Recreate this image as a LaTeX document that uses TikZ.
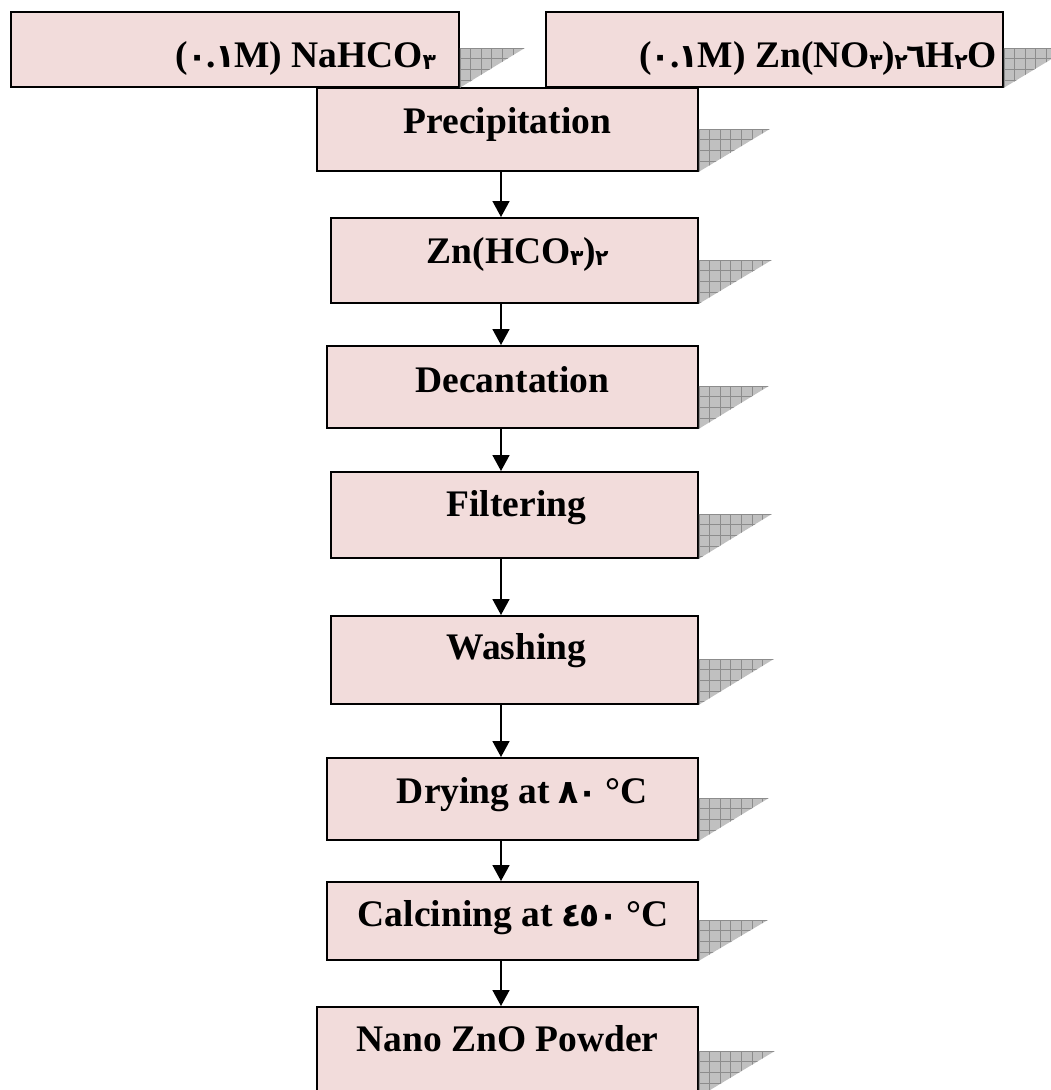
\documentclass[tikz,border=0pt]{standalone}
\usepackage{fontspec}
\setmainfont{Liberation Serif}
\newfontfamily\arfont{DejaVu Sans}
\usetikzlibrary{arrows.meta}
\definecolor{boxpink}{RGB}{242,220,219}
\definecolor{shadefill}{RGB}{192,192,192}
\definecolor{shadeline}{RGB}{140,140,140}
\newcommand\dg[1]{\makebox[18.5pt][c]{\arfont\bfseries\fontsize{33}{36}\selectfont #1}}
\newcommand\sdg[1]{\makebox[12.5pt][c]{\raisebox{-2.5pt}{\arfont\bfseries\fontsize{22}{24}\selectfont #1}}}
\newcommand\boxshadow[3]{%
  \begin{scope}[shift={([yshift=-#2pt]#1.north east)}]
    \fill[shadefill] (0,0) -- (#3,0) -- (#1.south east) -- cycle;
    \begin{scope}
      \clip (0,0) -- (#3,0) -- (#1.south east) -- cycle;
      \draw[shadeline, line width=0.6pt, step=10.6pt] (0,0) grid (#3,70);
    \end{scope}
  \end{scope}}
\tikzset{
  fbox/.style={draw=black, fill=boxpink, line width=1.8pt, inner sep=0pt, anchor=north west},
  lbl/.style={anchor=base, inner sep=0pt, font=\fontsize{37.5}{40}\selectfont\bfseries},
  arr/.style={line width=1.6pt, -{Triangle[width=17pt,length=16pt]}}
}
\begin{document}
\begin{tikzpicture}[x=1pt, y=-1pt]
\useasboundingbox (0,0) rectangle (1051,1090);
\clip (0,0) rectangle (1051,1090);
\coordinate (ax) at (501,0);
% boxes
\node[fbox, minimum width=448pt, minimum height=75pt] (na) at (10,11) {};
\node[fbox, minimum width=457pt, minimum height=75pt] (zn) at (545,11) {};
\node[fbox, minimum width=381pt, minimum height=83pt] (pr) at (316,87) {};
\node[fbox, minimum width=367pt, minimum height=85pt] (zh) at (330,217) {};
\node[fbox, minimum width=371pt, minimum height=82pt] (de) at (326,345) {};
\node[fbox, minimum width=367pt, minimum height=86pt] (fi) at (330,471) {};
\node[fbox, minimum width=367pt, minimum height=88pt] (wa) at (330,615) {};
\node[fbox, minimum width=371pt, minimum height=82pt] (dr) at (326,757) {};
\node[fbox, minimum width=371pt, minimum height=78pt] (ca) at (326,881) {};
\node[fbox, minimum width=381pt, minimum height=89pt] (nz) at (316,1006) {};
% shadows
\boxshadow{na}{37}{65}
\boxshadow{zn}{37}{66}
\boxshadow{pr}{42}{71}
\boxshadow{zh}{43}{73}
\boxshadow{de}{41}{70}
\boxshadow{fi}{43}{73}
\boxshadow{wa}{44}{75}
\boxshadow{dr}{41}{70}
\boxshadow{ca}{39}{69}
\boxshadow{nz}{45}{76}
% labels
\node[lbl, anchor=base east] (tna) at ([xshift=-24pt,yshift=-56pt]na.north east) {(\dg{٠}.\dg{١}M) NaHCO\sdg{٣}};
\node[lbl, anchor=base east] (tzn) at ([xshift=-7pt,yshift=-56pt]zn.north east) {(\dg{٠}.\dg{١}M) Zn(NO\sdg{٣})\sdg{٢}\dg{٦}H\sdg{٢}O};
\node[lbl] (tpr) at ([yshift=-46pt]pr.north) {Precipitation};
\node[lbl] (tzh) at ([xshift=3pt,yshift=-46pt]zh.north) {Zn(HCO\sdg{٣})\sdg{٢}};
\node[lbl] (tde) at ([yshift=-47pt]de.north) {Decantation};
\node[lbl] (tfi) at ([xshift=2pt,yshift=-45pt]fi.north) {Filtering};
\node[lbl] (twa) at ([xshift=2pt,yshift=-44pt]wa.north) {Washing};
\node[lbl] (tdr) at ([xshift=10pt,yshift=-46pt]dr.north) {Drying at \dg{٨}\dg{٠} °C};
\node[lbl] (tca) at ([xshift=1pt,yshift=-45pt]ca.north) {Calcining at \dg{٤}\dg{٥}\dg{٠} °C};
\node[lbl] (tnz) at ([yshift=-45pt]nz.north) {Nano ZnO Powder};
% arrows
\draw[arr] (pr.south -| ax) -- (zh.north -| ax);
\draw[arr] (zh.south -| ax) -- (de.north -| ax);
\draw[arr] (de.south -| ax) -- (fi.north -| ax);
\draw[arr] (fi.south -| ax) -- (wa.north -| ax);
\draw[arr] (wa.south -| ax) -- (dr.north -| ax);
\draw[arr] (dr.south -| ax) -- (ca.north -| ax);
\draw[arr] (ca.south -| ax) -- (nz.north -| ax);
\end{tikzpicture}
\end{document}
